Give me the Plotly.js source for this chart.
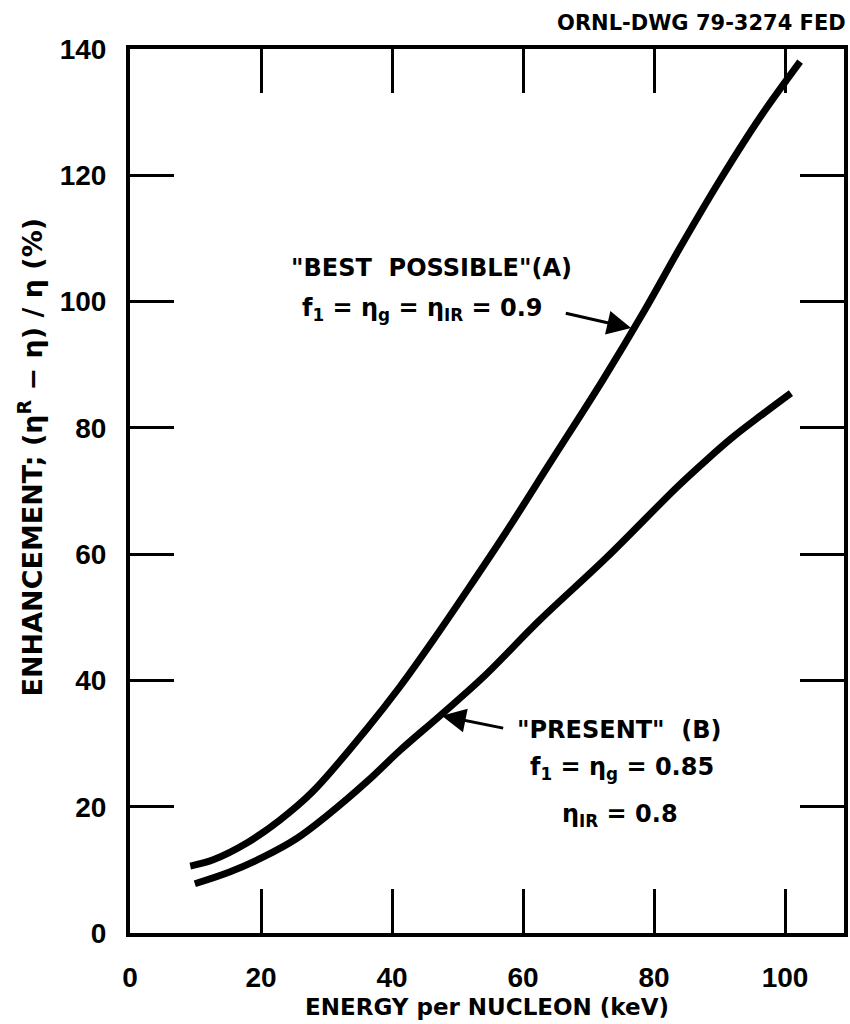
<!DOCTYPE html>
<html>
<head>
<meta charset="utf-8">
<script src="https://cdn.plot.ly/plotly-3.0.1.min.js"></script>
<style>html,body{margin:0;padding:0;background:#fff;}</style>
</head>
<body>
<div id="chart" style="width:850px;height:1024px;"></div>
<script>
// Curve A: "BEST POSSIBLE"
const energyA = [9.2, 12.7, 17.9, 22.9, 27.9, 36.2, 41.2, 46.3, 51.5, 57.6, 64.1, 72.2, 78.5, 84, 90.1, 96.2, 102.3];
const enhA    = [10.6, 11.6, 14.3, 17.9, 22.4, 32.4, 39.0, 46.4, 54.3, 63.8, 74.4, 87.6, 98.5, 108.6, 119.3, 129.2, 138];
// Curve B: "PRESENT"
const energyB = [9.9, 15.3, 20.3, 25.5, 30.1, 36.2, 41.2, 47.3, 53.9, 62.6, 72.8, 83.5, 88, 92, 96.5, 100.9];
const enhB    = [7.8, 9.7, 12.0, 15.0, 18.6, 24.0, 28.9, 34.4, 40.5, 49.6, 59.5, 70.6, 74.9, 78.5, 82.1, 85.5];

const xTicks = [0, 20, 40, 60, 80, 100];
const yTicks = [0, 20, 40, 60, 80, 100, 120, 140];

const TICKFONT = "Liberation Sans, Arial, sans-serif";
const FONT = "DejaVu Sans, Verdana, sans-serif";
const lineStyle = {color: "#000", width: 7, shape: "spline", smoothing: 1};

const traces = [
  {x: energyA, y: enhA, mode: "lines", line: lineStyle, name: "A", hoverinfo: "skip"},
  {x: energyB, y: enhB, mode: "lines", line: lineStyle, name: "B", hoverinfo: "skip"}
];

const axisCommon = {
  showgrid: false, zeroline: false,
  showline: true, linecolor: "#000", linewidth: 4, mirror: "ticks",
  ticks: "inside", ticklen: 44, tickwidth: 3, tickcolor: "#000",
  tickfont: {family: TICKFONT, size: 28, color: "#000", weight: "bold"},
  tickmode: "array"
};

const txt = (size) => ({family: FONT, size: size, color: "#000", weight: "bold"});

const layout = {
  width: 850, height: 1024,
  margin: {l: 130, r: 6, t: 49, b: 91},
  paper_bgcolor: "#fff", plot_bgcolor: "#fff",
  showlegend: false,
  title: {
    text: "ORNL-DWG 79-3274 FED",
    font: txt(21),
    x: 0.995, xanchor: "right", y: 0.985, yanchor: "top"
  },
  xaxis: Object.assign({}, axisCommon, {
    range: [0, 109], tickvals: xTicks, ticktext: xTicks.map(String),
    ticklabelstandoff: 16,
    title: {text: "ENERGY per NUCLEON (keV)", standoff: 8, font: txt(23)}
  }),
  yaxis: Object.assign({}, axisCommon, {
    range: [0, 140], tickvals: yTicks, ticktext: yTicks.map(String),
    ticklabelstandoff: 14
  }),
  annotations: [
    {x: -0.14, y: 0.538, xref: "paper", yref: "paper", xanchor: "center", yanchor: "middle", textangle: -90,
     text: "ENHANCEMENT; (η<sup>R</sup> − η) / η (%)", showarrow: false, font: txt(27)},
    {x: 46.1, y: 105.3, xref: "x", yref: "y", text: "\"BEST  POSSIBLE\"(A)", showarrow: false, font: txt(24)},
    {x: 44.5, y: 98.7, xref: "x", yref: "y", text: "f<sub>1</sub> = η<sub>g</sub> = η<sub>IR</sub> = 0.9", showarrow: false, font: txt(24)},
    {x: 76.5, y: 95.8, ax: 66.3, ay: 98.2, xref: "x", yref: "y", axref: "x", ayref: "y",
     text: "", showarrow: true, arrowhead: 2, arrowsize: 1.6, arrowwidth: 3, arrowcolor: "#000"},
    {x: 74.8, y: 32.2, xref: "x", yref: "y", text: "\"PRESENT\"  (B)", showarrow: false, font: txt(24)},
    {x: 75.1, y: 26.0, xref: "x", yref: "y", text: "f<sub>1</sub> = η<sub>g</sub> = 0.85", showarrow: false, font: txt(24)},
    {x: 74.8, y: 18.6, xref: "x", yref: "y", text: "η<sub>IR</sub> = 0.8", showarrow: false, font: txt(24)},
    {x: 47.6, y: 34.4, ax: 57.2, ay: 32.4, xref: "x", yref: "y", axref: "x", ayref: "y",
     text: "", showarrow: true, arrowhead: 2, arrowsize: 1.6, arrowwidth: 3, arrowcolor: "#000"}
  ]
};

Plotly.newPlot("chart", traces, layout, {staticPlot: true, displayModeBar: false});
</script>
</body>
</html>
